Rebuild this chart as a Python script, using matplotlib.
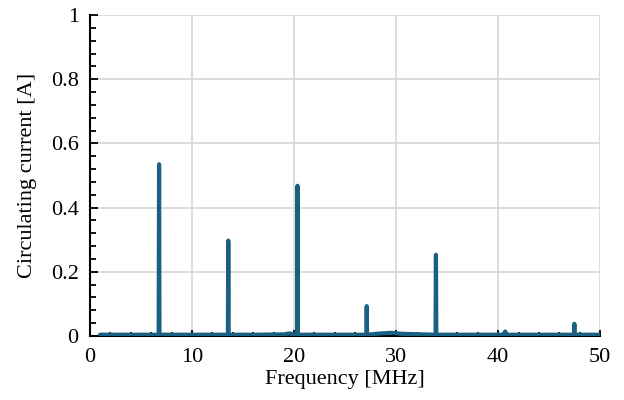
import matplotlib.pyplot as plt
from matplotlib.ticker import MultipleLocator

# spectrum: baseline points plus the ISM harmonic spikes
freq_mhz = [1.0, 3.0, 5.0, 6.74, 6.78, 6.82, 9.0, 12.0, 13.52, 13.56, 13.60,
            16.0, 19.0, 19.5, 20.0, 20.30, 20.34, 20.38, 23.0, 26.0, 27.08, 27.12,
            27.16, 28.5, 29.5, 30.5, 33.86, 33.90, 33.94, 37.0, 40.5, 40.68, 40.86,
            44.0, 47.42, 47.46, 47.50, 50.0]
current_a = [0.004, 0.004, 0.004, 0.004, 0.535, 0.004, 0.004, 0.004, 0.004, 0.297, 0.004,
             0.004, 0.005, 0.008, 0.005, 0.004, 0.468, 0.004, 0.004, 0.004, 0.004, 0.093,
             0.004, 0.008, 0.010, 0.007, 0.004, 0.253, 0.004, 0.004, 0.004, 0.014, 0.004,
             0.004, 0.004, 0.038, 0.004, 0.004]

plt.rcParams['font.family'] = ['Liberation Serif', 'DejaVu Serif']

fig = plt.figure(figsize=(6.24, 4.0), dpi=100)
ax = fig.add_axes([0.144, 0.16, 0.818, 0.8025])

ax.plot(freq_mhz, current_a, color='#1a6083', lw=3.0, solid_capstyle='round',
        solid_joinstyle='round', zorder=3)

ax.set_xlim(0, 50)
ax.set_ylim(0, 1)
ax.xaxis.set_major_locator(MultipleLocator(10))
ax.xaxis.set_minor_locator(MultipleLocator(2))
ax.yaxis.set_major_locator(MultipleLocator(0.2))
ax.yaxis.set_minor_locator(MultipleLocator(0.04))
ax.set_yticks([0, 0.2, 0.4, 0.6, 0.8, 1.0])
ax.set_yticklabels(['0', '0.2', '0.4', '0.6', '0.8', '1'])

ax.grid(True, which='major', color='#d9d9d9', lw=1.3, zorder=0)
ax.set_axisbelow(True)
for side in ['top', 'right']:
    ax.spines[side].set_visible(False)
for side in ['left', 'bottom']:
    ax.spines[side].set_color('black')
    ax.spines[side].set_linewidth(1.5)

ax.tick_params(axis='both', which='both', direction='in', colors='black', labelsize=16)
ax.tick_params(axis='y', which='major', length=6, width=1.3, pad=8)
ax.tick_params(axis='y', which='minor', length=4, width=1.3)
ax.tick_params(axis='x', which='major', length=4, width=1.3, pad=9)
ax.tick_params(axis='x', which='minor', length=3, width=1.3)

ax.set_xlabel('Frequency [MHz]', fontsize=16, labelpad=2)
ax.set_ylabel('Circulating current [A]', fontsize=16, labelpad=10)

fig.savefig('out.png', dpi=100)
